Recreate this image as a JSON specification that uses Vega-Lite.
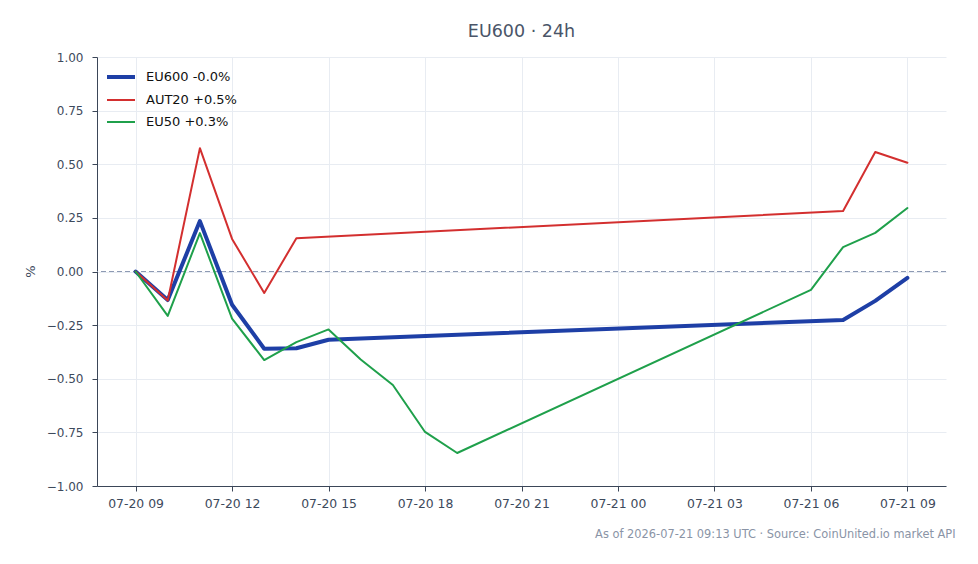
{
  "$schema": "https://vega.github.io/schema/vega-lite/v6.json",
  "autosize": {"type": "none"},
  "width": 849,
  "height": 429,
  "padding": {"left": 97, "top": 57, "right": 32, "bottom": 78},
  "background": "white",
  "config": {
    "font": "DejaVu Sans",
    "view": {"stroke": null},
    "axis": {
      "labelFont": "DejaVu Sans",
      "labelFontSize": 12,
      "labelColor": "#3d4a5c",
      "domainColor": "#3b4658",
      "tickColor": "#3b4658",
      "gridColor": "#e8ecf2",
      "gridWidth": 1,
      "tickSize": 5,
      "labelPadding": 4
    }
  },
  "title": {
    "text": "EU600 · 24h",
    "font": "DejaVu Sans",
    "fontSize": 17.5,
    "fontWeight": "normal",
    "color": "#4a5568",
    "anchor": "middle",
    "offset": 11
  },
  "datasets": {
    "series": [
      {"t": "2026-07-20T09:00:00Z", "s": "EU600 -0.0%", "v": 0.0},
      {"t": "2026-07-20T10:00:00Z", "s": "EU600 -0.0%", "v": -0.133},
      {"t": "2026-07-20T11:00:00Z", "s": "EU600 -0.0%", "v": 0.235},
      {"t": "2026-07-20T12:00:00Z", "s": "EU600 -0.0%", "v": -0.155},
      {"t": "2026-07-20T13:00:00Z", "s": "EU600 -0.0%", "v": -0.36},
      {"t": "2026-07-20T14:00:00Z", "s": "EU600 -0.0%", "v": -0.358},
      {"t": "2026-07-20T15:00:00Z", "s": "EU600 -0.0%", "v": -0.318},
      {"t": "2026-07-21T07:00:00Z", "s": "EU600 -0.0%", "v": -0.226},
      {"t": "2026-07-21T08:00:00Z", "s": "EU600 -0.0%", "v": -0.137},
      {"t": "2026-07-21T09:00:00Z", "s": "EU600 -0.0%", "v": -0.03},
      {"t": "2026-07-20T09:00:00Z", "s": "AUT20 +0.5%", "v": 0.0},
      {"t": "2026-07-20T10:00:00Z", "s": "AUT20 +0.5%", "v": -0.135},
      {"t": "2026-07-20T11:00:00Z", "s": "AUT20 +0.5%", "v": 0.575},
      {"t": "2026-07-20T12:00:00Z", "s": "AUT20 +0.5%", "v": 0.152},
      {"t": "2026-07-20T13:00:00Z", "s": "AUT20 +0.5%", "v": -0.1},
      {"t": "2026-07-20T14:00:00Z", "s": "AUT20 +0.5%", "v": 0.155},
      {"t": "2026-07-21T07:00:00Z", "s": "AUT20 +0.5%", "v": 0.282},
      {"t": "2026-07-21T08:00:00Z", "s": "AUT20 +0.5%", "v": 0.557},
      {"t": "2026-07-21T09:00:00Z", "s": "AUT20 +0.5%", "v": 0.507},
      {"t": "2026-07-20T09:00:00Z", "s": "EU50 +0.3%", "v": 0.0},
      {"t": "2026-07-20T10:00:00Z", "s": "EU50 +0.3%", "v": -0.207},
      {"t": "2026-07-20T11:00:00Z", "s": "EU50 +0.3%", "v": 0.179},
      {"t": "2026-07-20T12:00:00Z", "s": "EU50 +0.3%", "v": -0.22},
      {"t": "2026-07-20T13:00:00Z", "s": "EU50 +0.3%", "v": -0.413},
      {"t": "2026-07-20T14:00:00Z", "s": "EU50 +0.3%", "v": -0.329},
      {"t": "2026-07-20T15:00:00Z", "s": "EU50 +0.3%", "v": -0.27},
      {"t": "2026-07-20T16:00:00Z", "s": "EU50 +0.3%", "v": -0.41},
      {"t": "2026-07-20T17:00:00Z", "s": "EU50 +0.3%", "v": -0.529},
      {"t": "2026-07-20T18:00:00Z", "s": "EU50 +0.3%", "v": -0.748},
      {"t": "2026-07-20T19:00:00Z", "s": "EU50 +0.3%", "v": -0.846},
      {"t": "2026-07-21T06:00:00Z", "s": "EU50 +0.3%", "v": -0.086},
      {"t": "2026-07-21T07:00:00Z", "s": "EU50 +0.3%", "v": 0.114},
      {"t": "2026-07-21T08:00:00Z", "s": "EU50 +0.3%", "v": 0.18},
      {"t": "2026-07-21T09:00:00Z", "s": "EU50 +0.3%", "v": 0.296}
    ],
    "zero": [{"y": 0}]
  },
  "layer": [
    {
      "data": {"name": "zero"},
      "mark": {"type": "rule", "color": "#8d9ab3", "strokeWidth": 1, "strokeDash": [5, 3]},
      "encoding": {
        "y": {"field": "y", "type": "quantitative"}
      }
    },
    {
      "data": {"name": "series"},
      "mark": {"type": "line", "strokeCap": "round", "strokeJoin": "round"},
      "encoding": {
        "x": {
          "field": "t",
          "type": "temporal",
          "scale": {
            "type": "utc",
            "domain": [1784533680000, 1784628720000]
          },
          "axis": {
            "labelExpr": "utcFormat(datum.value, '%m-%d %H')",
            "values": [1784538000000, 1784548800000, 1784559600000, 1784570400000, 1784581200000, 1784592000000, 1784602800000, 1784613600000, 1784624400000],
            "grid": true,
            "labelFontSize": 12.4,
            "title": "As of 2026-07-21 09:13 UTC · Source: CoinUnited.io market API",
            "titleFont": "DejaVu Sans",
            "titleFontSize": 11.4,
            "titleFontWeight": "normal",
            "titleColor": "#8a94a6",
            "titleAnchor": "end",
            "titleAlign": "right",
            "titleX": 858,
            "titleY": 48,
            "titleBaseline": "middle",
            "labelPadding": 6
          }
        },
        "y": {
          "field": "v",
          "type": "quantitative",
          "scale": {"domain": [-1, 1], "nice": false, "zero": false},
          "axis": {
            "values": [-1, -0.75, -0.5, -0.25, 0, 0.25, 0.5, 0.75, 1],
            "format": ".2f",
            "labelFontSize": 12,
            "labelPadding": 9,
            "title": "%",
            "titleFont": "DejaVu Sans",
            "titleFontSize": 13,
            "titleFontWeight": "normal",
            "titleColor": "#3d4a5c",
            "titleX": -67,
            "titleY": 214,
            "titleAngle": -90,
            "titleBaseline": "middle",
            "titleAlign": "center"
          }
        },
        "color": {
          "field": "s",
          "type": "nominal",
          "scale": {
            "domain": ["EU600 -0.0%", "AUT20 +0.5%", "EU50 +0.3%"],
            "range": ["#1e3fa6", "#d32f2f", "#1fa04b"]
          },
          "legend": {
            "title": null,
            "orient": "none",
            "legendX": 8,
            "legendY": 4,
            "symbolType": "stroke",
            "symbolSize": 784,
            "labelFont": "DejaVu Sans",
            "labelFontSize": 13,
            "labelColor": "#111111",
            "rowPadding": -8.5,
            "labelOffset": 9
          }
        },
        "strokeWidth": {
          "field": "s",
          "type": "nominal",
          "scale": {
            "type": "ordinal",
            "domain": ["EU600 -0.0%", "AUT20 +0.5%", "EU50 +0.3%"],
            "range": [4, 2, 2]
          },
          "legend": {
            "title": null,
            "orient": "none",
            "legendX": 8,
            "legendY": 4,
            "symbolType": "stroke",
            "symbolSize": 784,
            "labelFont": "DejaVu Sans",
            "labelFontSize": 13,
            "labelColor": "#111111",
            "rowPadding": -8.5,
            "labelOffset": 9
          }
        }
      }
    }
  ]
}
